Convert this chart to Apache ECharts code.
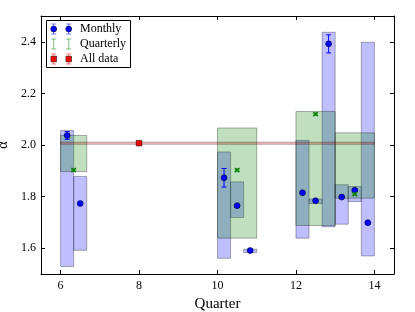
<!DOCTYPE html>
<html>
<head>
<meta charset="utf-8">
<script src="https://cdn.jsdelivr.net/npm/echarts@6/dist/echarts.min.js"></script>
<style>html,body{margin:0;padding:0;background:#fff}#c{width:415px;height:312px}</style>
</head>
<body>
<div id="c"></div>
<script>
// ---- data ----
const monthX     = [6.167, 6.5, 10.167, 10.5, 10.833, 12.167, 12.5, 12.833, 13.167, 13.5, 13.833];
const monthAlpha = [2.037, 1.773, 1.873, 1.765, 1.591, 1.815, 1.784, 2.392, 1.798, 1.825, 1.699];
const monthErr   = [0.015, 0.004, 0.036, 0.004, 0.004, 0.004, 0.004, 0.035, 0.004, 0.004, 0.004];
const monthLo    = [1.529, 1.592, 1.561, 1.719, 1.583, 1.639, 1.773, 1.683, 1.693, 1.781, 1.570];
const monthHi    = [2.056, 1.878, 1.973, 1.857, 1.596, 2.018, 1.791, 2.437, 1.846, 1.839, 2.398];
const monthWidth = 1 / 3;

const quarterX     = [6.333, 10.5, 12.5, 13.5];
const quarterAlpha = [1.903, 1.903, 2.120, 1.810];
const quarterErr   = [0.004, 0.004, 0.004, 0.004];
const quarterStart = [6, 10, 12, 13];
const quarterEnd   = [6.667, 11, 13, 14];
const quarterLo    = [1.897, 1.639, 1.688, 1.794];
const quarterHi    = [2.037, 2.066, 2.130, 2.047];

const allX = [8];
const allAlpha = [2.007];
const allErr = [0.004];
const allStart = [6];
const allEnd = [14];

const xTicks = [6, 8, 10, 12, 14];
const yTicks = [1.6, 1.8, 2.0, 2.2, 2.4];

// ---- build ----
const FONT = '"Liberation Serif", "DejaVu Serif", serif';
const monthRects = monthX.map((x, i) => [x - monthWidth / 2, x + monthWidth / 2, monthLo[i], monthHi[i]]);
const quarterRects = quarterX.map((x, i) => [quarterStart[i], quarterEnd[i], quarterLo[i], quarterHi[i]]);
const allRects = allX.map((x, i) => [allStart[i], allEnd[i], allAlpha[i] - allErr[i], allAlpha[i] + allErr[i]]);

function rectRenderer(fill, stroke) {
  return function (params, api) {
    const p0 = api.coord([api.value(0), api.value(3)]);
    const p1 = api.coord([api.value(1), api.value(2)]);
    return {
      type: 'rect',
      shape: { x: p0[0], y: p0[1], width: p1[0] - p0[0], height: p1[1] - p0[1] },
      style: { fill: fill, stroke: stroke, lineWidth: 1 }
    };
  };
}

function pointRenderer(kind, color, barColor) {
  return function (params, api) {
    const x = api.value(0), y = api.value(1), e = api.value(2);
    const c = api.coord([x, y]);
    const top = api.coord([x, y + e]);
    const bot = api.coord([x, y - e]);
    const cap = 2.5;
    const children = [
      { type: 'line', shape: { x1: c[0], y1: top[1], x2: c[0], y2: bot[1] }, style: { stroke: barColor, lineWidth: 1 } },
      { type: 'line', shape: { x1: c[0] - cap, y1: top[1], x2: c[0] + cap, y2: top[1] }, style: { stroke: barColor, lineWidth: 1 } },
      { type: 'line', shape: { x1: c[0] - cap, y1: bot[1], x2: c[0] + cap, y2: bot[1] }, style: { stroke: barColor, lineWidth: 1 } }
    ];
    children.push(marker(kind, c[0], c[1], color));
    return { type: 'group', children: children };
  };
}

function marker(kind, cx, cy, color) {
  if (kind === 'circle') {
    return { type: 'circle', shape: { cx: cx, cy: cy, r: 3 }, style: { fill: color, stroke: '#000', lineWidth: 0.5 } };
  } else if (kind === 'x') {
    const s = 2.2;
    return { type: 'group', children: [
      { type: 'line', shape: { x1: cx - s, y1: cy - s, x2: cx + s, y2: cy + s }, style: { stroke: color, lineWidth: 1.2 } },
      { type: 'line', shape: { x1: cx - s, y1: cy + s, x2: cx + s, y2: cy - s }, style: { stroke: color, lineWidth: 1.2 } }
    ] };
  } else {
    const s = 2.8;
    return { type: 'rect', shape: { x: cx - s, y: cy - s, width: 2 * s, height: 2 * s }, style: { fill: color, stroke: '#000', lineWidth: 0.5 } };
  }
}

const axisCommon = {
  type: 'value',
  axisLine: { show: true, onZero: false, lineStyle: { color: '#000', width: 1 } },
  splitLine: { show: false },
  axisTick: { show: true, inside: true, length: 4, lineStyle: { color: '#000' } }
};

// legend (graphic)
const legendItems = [
  { label: 'Monthly', kind: 'circle', color: '#0000ff', bar: 'rgba(0,0,255,0.5)' },
  { label: 'Quarterly', kind: 'x', color: '#008000', bar: 'rgba(0,128,0,0.5)' },
  { label: 'All data', kind: 'square', color: '#ff0000', bar: 'rgba(255,0,0,0.5)' }
];
const legendGraphics = [{
  type: 'rect', shape: { x: 46.5, y: 20.5, width: 84, height: 47 },
  style: { fill: '#fff', stroke: '#000', lineWidth: 1 }, z: 100
}];
legendItems.forEach((it, i) => {
  const cy = 29 + i * 15;
  [53.7, 68.7].forEach(cx => {
    legendGraphics.push({ type: 'line', shape: { x1: cx, y1: cy - 5, x2: cx, y2: cy + 5 }, style: { stroke: it.bar, lineWidth: 1 }, z: 101 });
    legendGraphics.push({ type: 'line', shape: { x1: cx - 2.5, y1: cy - 5, x2: cx + 2.5, y2: cy - 5 }, style: { stroke: it.bar, lineWidth: 1 }, z: 101 });
    legendGraphics.push({ type: 'line', shape: { x1: cx - 2.5, y1: cy + 5, x2: cx + 2.5, y2: cy + 5 }, style: { stroke: it.bar, lineWidth: 1 }, z: 101 });
    const m = marker(it.kind, cx, cy, it.color);
    m.z = 102;
    legendGraphics.push(m);
  });
  legendGraphics.push({
    type: 'text', x: 80, y: cy, z: 102,
    style: { text: it.label, fill: '#000', font: '12px ' + FONT, verticalAlign: 'middle', textAlign: 'left' }
  });
});

const chart = echarts.init(document.getElementById('c'), null, { renderer: 'canvas' });
chart.setOption({
  animation: false,
  backgroundColor: '#fff',
  grid: { left: 41, right: 21, top: 16, bottom: 38, containLabel: false, outerBoundsMode: 'none' },
  xAxis: [
    Object.assign({}, axisCommon, {
      min: 5.5, max: 14.5, position: 'bottom',
      axisTick: Object.assign({}, axisCommon.axisTick, { customValues: xTicks }),
      axisLabel: { customValues: xTicks, color: '#000', fontFamily: FONT, fontSize: 12, margin: 6 },
      name: 'Quarter', nameLocation: 'middle', nameGap: 22,
      nameTextStyle: { color: '#000', fontFamily: FONT, fontSize: 15 }
    }),
    Object.assign({}, axisCommon, {
      min: 5.5, max: 14.5, position: 'top',
      axisTick: Object.assign({}, axisCommon.axisTick, { customValues: xTicks }),
      axisLabel: { show: false }
    })
  ],
  yAxis: [
    Object.assign({}, axisCommon, {
      min: 1.5, max: 2.5, position: 'left',
      axisTick: Object.assign({}, axisCommon.axisTick, { customValues: yTicks }),
      axisLabel: { customValues: yTicks, color: '#000', fontFamily: FONT, fontSize: 12, margin: 5,
        formatter: v => v.toFixed(1) },
      name: 'α', nameLocation: 'middle', nameGap: 30, nameRotate: 90,
      nameTextStyle: { color: '#000', fontFamily: FONT, fontSize: 14 }
    }),
    Object.assign({}, axisCommon, {
      min: 1.5, max: 2.5, position: 'right',
      axisTick: Object.assign({}, axisCommon.axisTick, { customValues: yTicks }),
      axisLabel: { show: false }
    })
  ],
  graphic: legendGraphics,
  series: [
    { type: 'custom', name: 'monthRects', renderItem: rectRenderer('rgba(0,0,255,0.25)', 'rgba(0,0,0,0.3)'),
      data: monthRects, encode: { x: [0, 1], y: [2, 3] }, z: 1, silent: true },
    { type: 'custom', name: 'quarterRects', renderItem: rectRenderer('rgba(0,128,0,0.25)', 'rgba(0,0,0,0.3)'),
      data: quarterRects, encode: { x: [0, 1], y: [2, 3] }, z: 2, silent: true },
    { type: 'custom', name: 'allRect', renderItem: rectRenderer('rgba(255,0,0,0.25)', 'rgba(0,0,0,0.3)'),
      data: allRects, encode: { x: [0, 1], y: [2, 3] }, z: 3, silent: true },
    { type: 'custom', name: 'Monthly', renderItem: pointRenderer('circle', '#0000ff', '#0000ff'),
      data: monthX.map((x, i) => [x, monthAlpha[i], monthErr[i]]), encode: { x: 0, y: 1 }, z: 5 },
    { type: 'custom', name: 'Quarterly', renderItem: pointRenderer('x', '#008000', '#008000'),
      data: quarterX.map((x, i) => [x, quarterAlpha[i], quarterErr[i]]), encode: { x: 0, y: 1 }, z: 5 },
    { type: 'custom', name: 'All data', renderItem: pointRenderer('square', '#ff0000', '#ff0000'),
      data: allX.map((x, i) => [x, allAlpha[i], allErr[i]]), encode: { x: 0, y: 1 }, z: 5 }
  ]
});
</script>
</body>
</html>
